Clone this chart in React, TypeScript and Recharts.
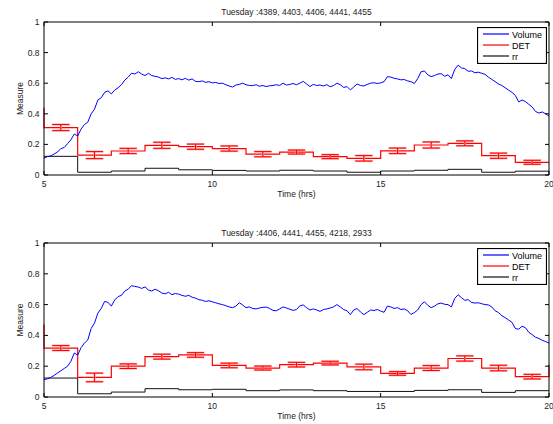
import React from 'react';
import { LineChart, Line, XAxis, YAxis, ErrorBar, Legend, Label } from 'recharts';

// ---------- data ----------
const HOUR_STARTS = [5, 6, 7, 8, 9, 10, 11, 12, 13, 14, 15, 16, 17, 18, 19];
const X_TICKS = [5, 10, 15, 20];
const Y_TICKS = [0, 0.2, 0.4, 0.6, 0.8, 1];
const X_LABEL = 'Time (hrs)';
const Y_LABEL = 'Measure';
const LEGEND_LABELS = ['Volume', 'DET', 'rr'];

const TITLE_TOP = 'Tuesday :4389, 4403, 4406, 4441, 4455';
const TITLE_BOTTOM = 'Tuesday :4406, 4441, 4455, 4218, 2933';

const VOLUME_START = 5;
const VOLUME_STEP = 0.1;

const VOLUME_TOP = [
  0.11, 0.12, 0.125, 0.137, 0.15, 0.172, 0.18, 0.205, 0.23, 0.268,
  0.255, 0.3, 0.33, 0.345, 0.4, 0.43, 0.49, 0.505, 0.54, 0.55,
  0.53, 0.555, 0.57, 0.59, 0.62, 0.64, 0.665, 0.66, 0.675, 0.66,
  0.65, 0.665, 0.65, 0.645, 0.64, 0.63, 0.635, 0.628, 0.638, 0.625,
  0.63, 0.622, 0.632, 0.62, 0.628, 0.612, 0.61, 0.615, 0.605, 0.61,
  0.602, 0.605, 0.598, 0.6, 0.59, 0.582, 0.575, 0.588, 0.592, 0.6,
  0.59, 0.585, 0.584, 0.59, 0.58, 0.585, 0.578, 0.583, 0.585, 0.59,
  0.585, 0.6, 0.588, 0.592, 0.598, 0.59, 0.6, 0.612, 0.595, 0.578,
  0.592, 0.585, 0.588, 0.582, 0.59, 0.577, 0.585, 0.6, 0.59, 0.572,
  0.578, 0.556, 0.575, 0.595, 0.585, 0.582, 0.592, 0.6, 0.603, 0.598,
  0.602, 0.61, 0.643, 0.64, 0.632, 0.628, 0.622, 0.624, 0.615, 0.61,
  0.598, 0.63, 0.675, 0.68, 0.655, 0.643, 0.65, 0.66, 0.662, 0.645,
  0.655, 0.63, 0.69, 0.718, 0.7, 0.695, 0.678, 0.68, 0.668, 0.672,
  0.665, 0.658, 0.64, 0.625, 0.61, 0.595, 0.585, 0.57, 0.555, 0.54,
  0.52, 0.478, 0.49, 0.48, 0.462, 0.445, 0.415, 0.405, 0.412, 0.4,
  0.385,
];

const VOLUME_BOTTOM = [
  0.112, 0.118, 0.127, 0.14, 0.156, 0.17, 0.185, 0.2, 0.232, 0.286,
  0.272, 0.32, 0.35, 0.37, 0.445, 0.48, 0.545, 0.575, 0.62, 0.615,
  0.59, 0.63, 0.652, 0.66, 0.688, 0.7, 0.723, 0.718, 0.714, 0.705,
  0.715, 0.695, 0.688, 0.7, 0.69, 0.675, 0.67, 0.68, 0.664, 0.672,
  0.668, 0.66, 0.654, 0.66, 0.648, 0.642, 0.632, 0.628, 0.62, 0.625,
  0.618, 0.612, 0.605, 0.6, 0.593, 0.585, 0.58, 0.59, 0.612, 0.598,
  0.58, 0.585, 0.575, 0.572, 0.578, 0.582, 0.584, 0.575, 0.562, 0.56,
  0.572, 0.585, 0.578, 0.57, 0.562, 0.568, 0.592, 0.598, 0.58, 0.565,
  0.572, 0.565, 0.556, 0.568, 0.572, 0.578, 0.585, 0.6, 0.585, 0.568,
  0.56, 0.535, 0.565, 0.575, 0.552, 0.535, 0.55, 0.565, 0.562, 0.568,
  0.558, 0.55, 0.59, 0.585, 0.575, 0.58, 0.568, 0.572, 0.56, 0.536,
  0.548, 0.565, 0.6, 0.618, 0.595, 0.58, 0.59, 0.605, 0.61, 0.602,
  0.6, 0.585, 0.64, 0.664, 0.645, 0.628, 0.632, 0.614, 0.61, 0.612,
  0.606, 0.6, 0.598, 0.585, 0.56, 0.548, 0.528, 0.515, 0.5, 0.485,
  0.445, 0.44, 0.46, 0.45, 0.42, 0.405, 0.388, 0.38, 0.368, 0.36,
  0.35,
];

const DET_TOP = [0.31, 0.13, 0.157, 0.194, 0.185, 0.173, 0.136, 0.15, 0.12, 0.109, 0.158, 0.196, 0.207, 0.126, 0.083];
const DET_TOP_ERR = [0.02, 0.023, 0.017, 0.02, 0.017, 0.017, 0.017, 0.013, 0.013, 0.018, 0.018, 0.02, 0.016, 0.017, 0.013];
const DET_TOP_BEFORE = 0.44;
const DET_TOP_AFTER: number | null = null;
const RR_TOP = [0.122, 0.018, 0.026, 0.044, 0.034, 0.03, 0.026, 0.031, 0.026, 0.018, 0.026, 0.031, 0.037, 0.018, 0.025];

const DET_BOTTOM = [0.318, 0.127, 0.2, 0.262, 0.273, 0.205, 0.188, 0.21, 0.22, 0.195, 0.153, 0.188, 0.25, 0.188, 0.132];
const DET_BOTTOM_ERR = [0.016, 0.028, 0.015, 0.016, 0.015, 0.015, 0.013, 0.015, 0.012, 0.018, 0.012, 0.016, 0.017, 0.018, 0.015];
const DET_BOTTOM_BEFORE = 0.47;
const DET_BOTTOM_AFTER: number | null = 0.21;
const RR_BOTTOM = [0.123, 0.021, 0.032, 0.054, 0.047, 0.05, 0.041, 0.046, 0.041, 0.036, 0.036, 0.043, 0.047, 0.03, 0.041];

// ---------- styling ----------
const FONT = '"Liberation Sans", Arial, Helvetica, sans-serif';
const BLUE = '#0000ff';
const RED = '#ff0000';
const BLACK = '#111111';
const LEGEND_COLORS = [BLUE, RED, BLACK];
const TICK_LEN = 4;

// ---------- helpers ----------
function buildSteps(values: number[], before: number | null, after: number | null) {
  const pts: { x: number; v: number }[] = [];
  if (before != null) pts.push({ x: HOUR_STARTS[0], v: before });
  values.forEach((v, i) => {
    pts.push({ x: HOUR_STARTS[i], v });
    pts.push({ x: HOUR_STARTS[i] + 1, v });
  });
  if (after != null) pts.push({ x: HOUR_STARTS[HOUR_STARTS.length - 1] + 1, v: after });
  return pts;
}

function buildMids(values: number[], errs: number[]) {
  return values.map((v, i) => ({ x: HOUR_STARTS[i] + 0.5, v, e: errs[i] }));
}

function buildVolume(values: number[]) {
  return values.map((v, i) => ({ x: Math.round((VOLUME_START + i * VOLUME_STEP) * 100) / 100, v }));
}

const BottomTick = (p: any) => (
  <g>
    <line x1={p.x} y1={p.y} x2={p.x} y2={p.y - TICK_LEN} stroke="#000" />
    <text x={p.x} y={p.y + 12} textAnchor="middle" fontSize={8.5} fontFamily={FONT} fill="#222">
      {String(p.payload.value)}
    </text>
  </g>
);
const TopTick = (p: any) => (
  <line x1={p.x} y1={p.y} x2={p.x} y2={p.y + TICK_LEN} stroke="#000" />
);
const LeftTick = (p: any) => (
  <g>
    <line x1={p.x} y1={p.y} x2={p.x + TICK_LEN} y2={p.y} stroke="#000" />
    <text x={p.x - 4.5} y={p.y + 3} textAnchor="end" fontSize={8.5} fontFamily={FONT} fill="#222">
      {String(p.payload.value)}
    </text>
  </g>
);
const RightTick = (p: any) => (
  <line x1={p.x} y1={p.y} x2={p.x - TICK_LEN} y2={p.y} stroke="#000" />
);

const LegendBox = () => (
  <svg width={70} height={37} style={{ display: 'block' }}>
    <rect x={0.5} y={0.5} width={69} height={36} fill="#fff" stroke="#000" strokeWidth={1.2} />
    {LEGEND_LABELS.map((label, i) => (
      <g key={label}>
        <line x1={6} x2={32} y1={7 + i * 11} y2={7 + i * 11} stroke={LEGEND_COLORS[i]} strokeWidth={1.2} />
        <text x={35} y={10.5 + i * 11} fontSize={9} fontFamily={FONT} fill="#000">
          {label}
        </text>
      </g>
    ))}
  </svg>
);

type PanelProps = {
  title: string;
  volume: number[];
  det: number[];
  detErr: number[];
  detBefore: number | null;
  detAfter: number | null;
  rr: number[];
  top: number;
  marginTop: number;
  marginBottom: number;
};

function Panel(props: PanelProps) {
  const { title, volume, det, detErr, detBefore, detAfter, rr, top, marginTop, marginBottom } = props;
  const volumeData = buildVolume(volume);
  const detSteps = buildSteps(det, detBefore, detAfter);
  const detMids = buildMids(det, detErr);
  const rrSteps = buildSteps(rr, null, null);

  return (
    <div style={{ position: 'absolute', left: 0, top }}>
      <LineChart width={553} height={212} margin={{ top: marginTop - 1, right: 3, bottom: marginBottom - 1, left: 43 }}>
        <XAxis
          type="number"
          dataKey="x"
          domain={[5, 20]}
          ticks={X_TICKS}
          interval={0}
          height={1}
          tickSize={0}
          tickMargin={0}
          tickLine={false}
          axisLine={{ stroke: '#000' }}
          tick={(p: any) => <BottomTick {...p} />}
        >
          <Label
            content={(p: any) => {
              const vb = p.viewBox || {};
              return (
                <text x={vb.x + vb.width / 2} y={vb.y + 22} textAnchor="middle" fontSize={8.5} fontFamily={FONT} fill="#222">
                  {X_LABEL}
                </text>
              );
            }}
          />
        </XAxis>
        <XAxis
          xAxisId="top"
          orientation="top"
          type="number"
          dataKey="x"
          domain={[5, 20]}
          allowDataOverflow
          ticks={X_TICKS}
          interval={0}
          height={1}
          tickSize={0}
          tickMargin={0}
          tickLine={false}
          axisLine={{ stroke: '#000' }}
          tick={(p: any) => <TopTick {...p} />}
        >
          <Label
            content={(p: any) => {
              const vb = p.viewBox || {};
              const y = vb.y + (vb.height || 0);
              return (
                <text x={vb.x + vb.width / 2} y={y - 7.5} textAnchor="middle" fontSize={8.5} fontFamily={FONT} fill="#222">
                  {title}
                </text>
              );
            }}
          />
        </XAxis>
        <YAxis
          type="number"
          domain={[0, 1]}
          ticks={Y_TICKS}
          interval={0}
          width={1}
          tickSize={0}
          tickMargin={0}
          tickLine={false}
          axisLine={{ stroke: '#000' }}
          tick={(p: any) => <LeftTick {...p} />}
        >
          <Label
            content={(p: any) => {
              const vb = p.viewBox || {};
              const cx = vb.x + (vb.width || 0) - 21;
              const cy = vb.y + vb.height / 2;
              return (
                <text x={cx} y={cy} textAnchor="middle" fontSize={8.5} fontFamily={FONT} fill="#222" transform={`rotate(-90, ${cx}, ${cy})`}>
                  {Y_LABEL}
                </text>
              );
            }}
          />
        </YAxis>
        <YAxis
          yAxisId="right"
          orientation="right"
          type="number"
          domain={[0, 1]}
          allowDataOverflow
          ticks={Y_TICKS}
          interval={0}
          width={1}
          tickSize={0}
          tickMargin={0}
          tickLine={false}
          axisLine={{ stroke: '#000' }}
          tick={(p: any) => <RightTick {...p} />}
        />
        <Line
          data={rrSteps}
          dataKey="v"
          type="linear"
          stroke={BLACK}
          strokeWidth={1}
          dot={false}
          activeDot={false}
          isAnimationActive={false}
          name="rr"
        />
        <Line
          data={detSteps}
          dataKey="v"
          type="linear"
          stroke={RED}
          strokeWidth={1.2}
          dot={false}
          activeDot={false}
          isAnimationActive={false}
          name="DET"
        />
        <Line
          data={detMids}
          dataKey="v"
          type="linear"
          stroke="none"
          dot={false}
          activeDot={false}
          isAnimationActive={false}
          legendType="none"
          name="DET err"
        >
          <ErrorBar dataKey="e" direction="y" width={9} stroke="#ffa0a0" strokeWidth={2} />
          <ErrorBar dataKey="e" direction="y" width={8.5} stroke={RED} strokeWidth={1} />
        </Line>
        <Line
          data={volumeData}
          dataKey="v"
          type="linear"
          stroke={BLUE}
          strokeWidth={1}
          dot={false}
          activeDot={false}
          isAnimationActive={false}
          name="Volume"
        />
        <Legend
          layout="vertical"
          align="center"
          verticalAlign="middle"
          content={() => <LegendBox />}
          wrapperStyle={{ left: 477, top: marginTop + 4.5, width: 70, height: 37, right: 'auto', bottom: 'auto' }}
        />
      </LineChart>
    </div>
  );
}

export default function App() {
  return (
    <div style={{ position: 'absolute', left: 0, top: 0, width: 553, height: 424, background: '#fff' }}>
      <Panel
        title={TITLE_TOP}
        volume={VOLUME_TOP}
        det={DET_TOP}
        detErr={DET_TOP_ERR}
        detBefore={DET_TOP_BEFORE}
        detAfter={DET_TOP_AFTER}
        rr={RR_TOP}
        top={0}
        marginTop={22}
        marginBottom={37}
      />
      <Panel
        title={TITLE_BOTTOM}
        volume={VOLUME_BOTTOM}
        det={DET_BOTTOM}
        detErr={DET_BOTTOM_ERR}
        detBefore={DET_BOTTOM_BEFORE}
        detAfter={DET_BOTTOM_AFTER}
        rr={RR_BOTTOM}
        top={212}
        marginTop={31}
        marginBottom={27}
      />
    </div>
  );
}
